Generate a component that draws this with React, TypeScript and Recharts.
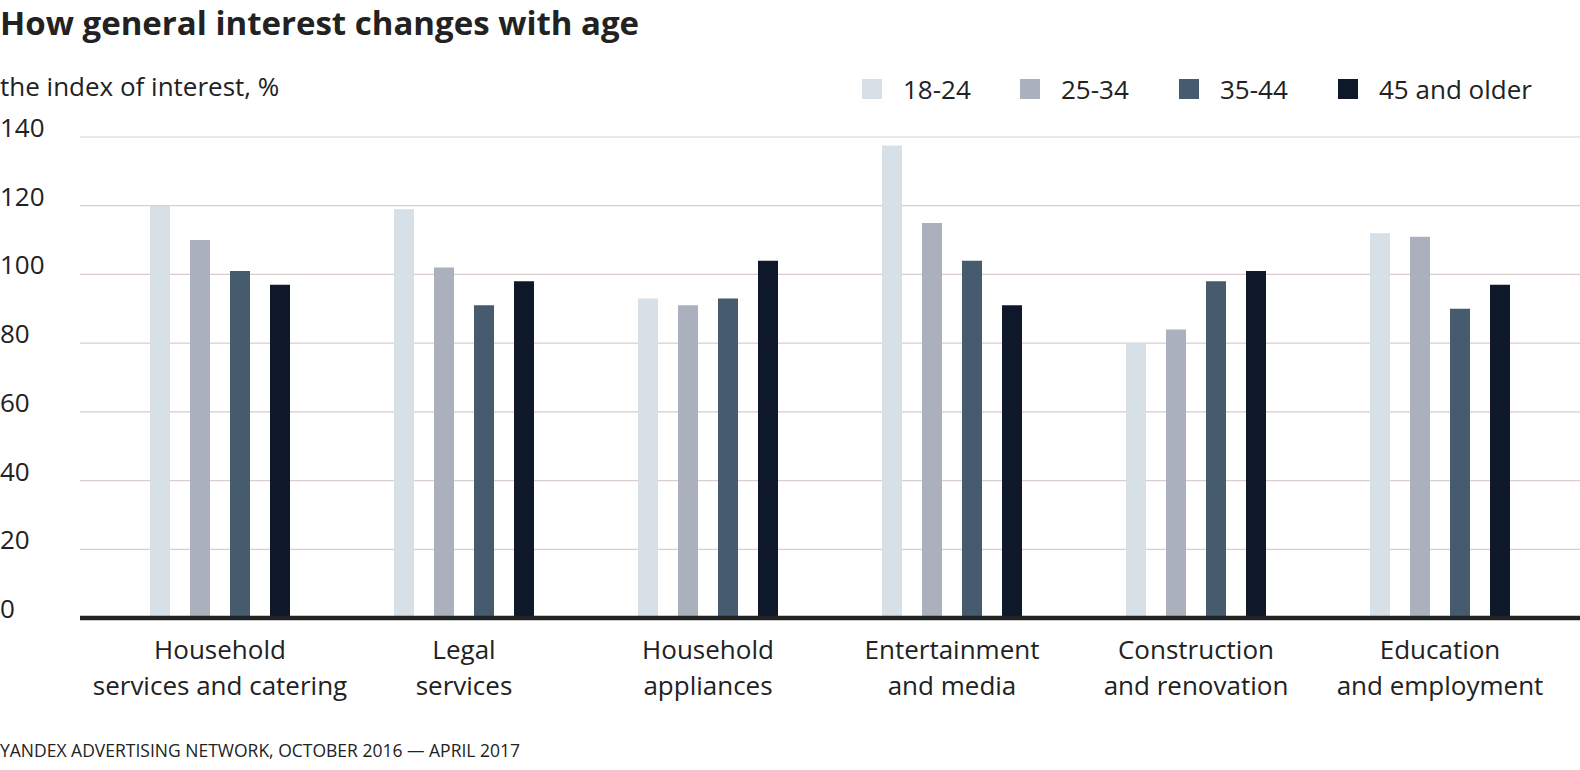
import React from 'react';
import { BarChart, Bar, XAxis, YAxis, CartesianGrid, ReferenceLine } from 'recharts';

const categoryLines: string[][] = [
  ['Household', 'services and catering'],
  ['Legal', 'services'],
  ['Household', 'appliances'],
  ['Entertainment', 'and media'],
  ['Construction', 'and renovation'],
  ['Education', 'and employment'],
];
const categories = categoryLines.map((l) => l.join(' '));

const age18to24 = [120, 119, 93, 137.5, 80, 112];
const age25to34 = [110, 102, 91, 115, 84, 111];
const age35to44 = [101, 91, 93, 104, 98, 90];
const age45plus = [97, 98, 104, 91, 101, 97];

const seriesNames = ['18-24', '25-34', '35-44', '45 and older'];
const seriesColors = ['#d7e0e6', '#aab1bc', '#475b6f', '#0f172b'];
const yTicks = [0, 20, 40, 60, 80, 100, 120, 140];

const data = categories.map((c, i) => ({
  name: c,
  a: age18to24[i],
  b: age25to34[i],
  c: age35to44[i],
  d: age45plus[i],
}));

const FONT = '"Open Sans", sans-serif';
const TEXT = '#222222';

const YTick = (props: any) => {
  const { y, payload } = props;
  return (
    <text x={0} y={y} textAnchor="start" fontFamily={FONT} fontSize={26} fill={TEXT}>
      {payload.value}
    </text>
  );
};

const XTick = (props: any) => {
  const { x, y, index } = props;
  const lines = categoryLines[index] || [];
  return (
    <g>
      {lines.map((l, i) => (
        <text key={i} x={x} y={y + 41 + i * 36} textAnchor="middle" fontFamily={FONT} fontSize={26} fill={TEXT}>
          {l}
        </text>
      ))}
    </g>
  );
};

const itemLefts = [862, 1020, 1179, 1338];

const gridLine = (props: any) => {
  const { x1, y1, x2, y2, index } = props;
  const stroke = index === yTicks.length - 1 ? '#e6e1e3' : '#d9cdd2';
  return <line key={props.key ?? index} x1={x1} y1={y1} x2={x2} y2={y2} stroke={stroke} strokeWidth={1.3} />;
};

export default function App() {
  return (
    <div style={{ position: 'absolute', left: 0, top: 0, width: 1580, height: 770, background: '#fff', overflow: 'hidden' }}>
      <div style={{ position: 'absolute', left: 0, top: 6, fontFamily: FONT, fontWeight: 700, fontSize: 33, lineHeight: '33px', color: TEXT, whiteSpace: 'nowrap' }}>
        How general interest changes with age
      </div>
      <div style={{ position: 'absolute', left: 0, top: 73, fontFamily: FONT, fontSize: 26, lineHeight: '26px', color: TEXT, whiteSpace: 'nowrap' }}>
        the index of interest, %
      </div>
      <div style={{ position: 'absolute', left: 0, top: 741, fontFamily: FONT, fontSize: 17.5, lineHeight: '18px', color: TEXT, whiteSpace: 'nowrap' }}>
        YANDEX ADVERTISING NETWORK, OCTOBER 2016 — APRIL 2017
      </div>
      {seriesNames.map((n, i) => (
        <div key={n} style={{ position: 'absolute', left: itemLefts[i], top: 76, height: 26, display: 'flex', alignItems: 'center', fontFamily: FONT, fontSize: 26, color: TEXT, whiteSpace: 'nowrap' }}>
          <div style={{ width: 20, height: 20, background: seriesColors[i], marginRight: 21 }} />
          <span style={{ lineHeight: '26px' }}>{n}</span>
        </div>
      ))}
      <div style={{ position: 'absolute', left: 0, top: 0 }}>
        <BarChart
          width={1580}
          height={770}
          data={data}
          margin={{ top: 137, right: 0, bottom: 0, left: 0 }}
          barSize={20}
          barGap={20}
        >
          <CartesianGrid vertical={false} horizontal={gridLine} />
          <XAxis
            dataKey="name"
            height={152}
            padding={{ left: 18, right: 18 }}
            axisLine={false}
            tickLine={false}
            tickSize={0}
            tickMargin={0}
            interval={0}
            tick={<XTick />}
          />
          <YAxis
            width={80}
            domain={[0, 140]}
            ticks={yTicks}
            axisLine={false}
            tickLine={false}
            tick={<YTick />}
          />
          <Bar dataKey="a" name={seriesNames[0]} fill={seriesColors[0]} isAnimationActive={false} />
          <Bar dataKey="b" name={seriesNames[1]} fill={seriesColors[1]} isAnimationActive={false} />
          <Bar dataKey="c" name={seriesNames[2]} fill={seriesColors[2]} isAnimationActive={false} />
          <Bar dataKey="d" name={seriesNames[3]} fill={seriesColors[3]} isAnimationActive={false} />
          <ReferenceLine y={0} stroke="#232323" strokeWidth={4.5} />
        </BarChart>
      </div>
    </div>
  );
}
